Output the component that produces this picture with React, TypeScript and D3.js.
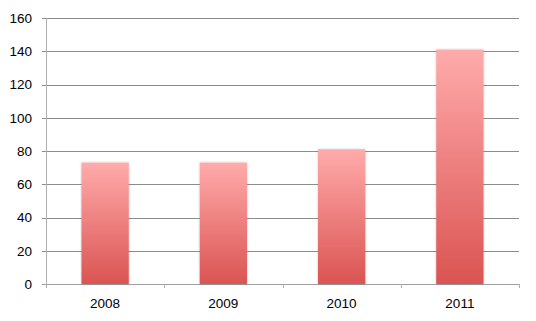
import React from "react";
import * as d3 from "d3";

const categories = ["2008", "2009", "2010", "2011"];
const values = [73, 73, 81, 141];
const yTicks = [0, 20, 40, 60, 80, 100, 120, 140, 160];

const W = 536;
const H = 321;
const M = { left: 46, right: 17, top: 18, bottom: 37 };
const FONT = "'Liberation Sans', Arial, sans-serif";

export default function App() {
  const x = d3
    .scaleBand<string>()
    .domain(categories)
    .range([M.left, W - M.right])
    .paddingInner(0.6)
    .paddingOuter(0.3);
  const band = d3.scaleBand<string>().domain(categories).range([M.left, W - M.right]);
  const y = d3.scaleLinear().domain([0, 160]).range([H - M.bottom, M.top]);
  const y0 = y(0);
  const boundaries = [...categories.map((c) => band(c) as number), W - M.right];

  return (
    <svg
      width={W}
      height={H}
      style={{ position: "absolute", left: 0, top: 0, background: "#fff" }}
    >
      <defs>
        <linearGradient id="barGrad" x1="0" y1="0" x2="0" y2="1">
          <stop offset="0%" stopColor="#ffabab" />
          <stop offset="100%" stopColor="#da5452" />
        </linearGradient>
        <filter id="shadow" x="-20%" y="-5%" width="140%" height="110%">
          <feGaussianBlur in="SourceAlpha" stdDeviation="1.2" />
          <feComponentTransfer>
            <feFuncA type="linear" slope="0.25" />
          </feComponentTransfer>
          <feMerge>
            <feMergeNode />
            <feMergeNode in="SourceGraphic" />
          </feMerge>
        </filter>
      </defs>
      {yTicks.map((t) => (
        <g key={t}>
          <line
            x1={M.left - 4}
            x2={W - M.right}
            y1={Math.round(y(t)) + 0.5}
            y2={Math.round(y(t)) + 0.5}
            stroke={t === 0 ? "#a0a0a0" : "#8c8c8c"}
            strokeWidth={1}
          />
          <text
            x={M.left - 14}
            y={y(t)}
            dy="0.36em"
            textAnchor="end"
            fontFamily={FONT}
            fontSize={13.5}
            fill="#000"
          >
            {t}
          </text>
        </g>
      ))}
      <line
        x1={M.left + 0.5}
        x2={M.left + 0.5}
        y1={M.top}
        y2={y0 + 4}
        stroke="#b0b0b0"
        strokeWidth={1}
      />
      {boundaries.map((b, i) => (
        <line
          key={i}
          x1={Math.round(b) + 0.5}
          x2={Math.round(b) + 0.5}
          y1={y0}
          y2={y0 + 4}
          stroke="#b0b0b0"
          strokeWidth={1}
        />
      ))}
      {categories.map((c, i) => (
        <rect
          key={c}
          x={x(c)}
          y={y(values[i])}
          width={x.bandwidth()}
          height={y0 - y(values[i])}
          fill="url(#barGrad)"
          filter="url(#shadow)"
        />
      ))}
      {categories.map((c) => (
        <text
          key={c}
          x={(band(c) as number) + band.bandwidth() / 2}
          y={308}
          textAnchor="middle"
          fontFamily={FONT}
          fontSize={13.5}
          fill="#000"
        >
          {c}
        </text>
      ))}
    </svg>
  );
}
